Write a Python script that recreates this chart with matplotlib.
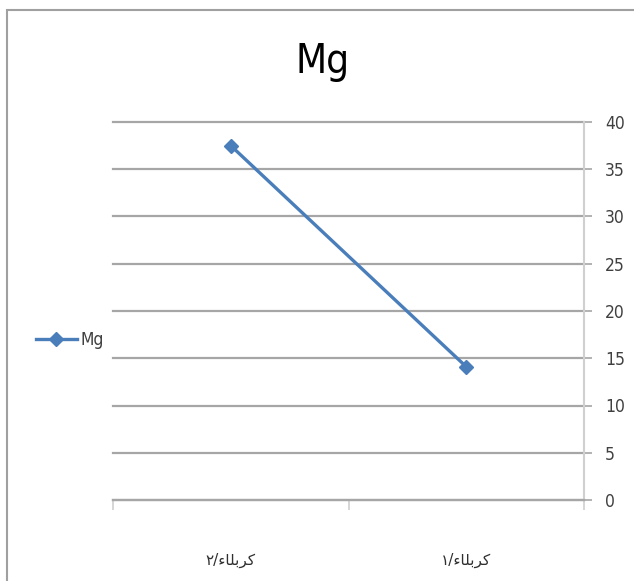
import matplotlib.pyplot as plt
from matplotlib.patches import Rectangle

# data, in the order Excel stored it (axis shown reversed, right to left)
categories = ["كربلاء/١", "كربلاء/٢"]
values = [14.1, 37.5]
series_name = "Mg"
yticks = [0, 5, 10, 15, 20, 25, 30, 35, 40]

# minimal Arabic shaping (matplotlib has no bidi / joining)
FORMS = {  # isolated, initial, medial, final
    'ك': ('ﻙ', 'ﻛ', 'ﻜ', 'ﻚ'),
    'ر': ('ﺭ', None, None, 'ﺮ'),
    'ب': ('ﺏ', 'ﺑ', 'ﺒ', 'ﺐ'),
    'ل': ('ﻝ', 'ﻟ', 'ﻠ', 'ﻞ'),
    'ا': ('ﺍ', None, None, 'ﺎ'),
    'ء': ('ﺀ', None, None, None),
}

def shape(s):
    out = []
    for i, ch in enumerate(s):
        if ch not in FORMS:
            out.append(ch)
            continue
        prev = s[i-1] if i > 0 else None
        nxt = s[i+1] if i + 1 < len(s) else None
        f = FORMS[ch]
        jp = prev in FORMS and FORMS[prev][1] is not None and f[3] is not None
        jn = nxt in FORMS and FORMS[nxt][3] is not None and f[1] is not None
        if jp and jn:
            out.append(f[2])
        elif jp:
            out.append(f[3])
        elif jn:
            out.append(f[1])
        else:
            out.append(f[0])
    return ''.join(out)[::-1]

narrow = {'family': 'DejaVu Sans', 'stretch': 'condensed'}

fig = plt.figure(figsize=(6.34, 5.81), dpi=100)
fig.patches.append(Rectangle((7/634, -0.1), 1.2, 1 - 10/581 + 0.1, transform=fig.transFigure,
                             fill=False, edgecolor='#a0a0a0', lw=1.5))
ax = fig.add_axes([113/634, 1 - 500/581, 471/634, 378/581])

x = list(range(len(categories)))
ax.plot(x, values, color='#4a7ebb', lw=2.4, marker='D', ms=7, label=series_name)
ax.set_xlim(1.5, -0.5)
ax.set_ylim(0, 40)

ax.yaxis.tick_right()
ax.set_yticks(yticks)
ax.set_yticklabels([str(v) for v in yticks], fontsize=12.5, color='#404040', **narrow)
ax.tick_params(axis='y', length=6, width=1.2, color='#a6a6a6', pad=9)
ax.grid(axis='y', color='#a6a6a6', lw=1.6)
for gl in ax.get_ygridlines():
    gl.set_clip_on(False)
ax.set_axisbelow(True)

ax.set_xticks(x)
ax.set_xticklabels([shape(c) for c in categories], family='DejaVu Sans', fontsize=11, color='#303030')
ax.set_xticks([-0.5, 0.5, 1.5], minor=True)
ax.tick_params(axis='x', which='major', length=0, pad=38)
ax.tick_params(axis='x', which='minor', length=7, width=1.2, color='#d0d0d0')

for s in ['top', 'left']:
    ax.spines[s].set_visible(False)
ax.spines['right'].set_color('#d0d0d0')
ax.spines['right'].set_linewidth(1.5)
ax.spines['bottom'].set_color('#a6a6a6')
ax.spines['bottom'].set_linewidth(1.6)

fig.text(323/634, 1 - 62/581, "Mg", ha='center', va='center', fontsize=29,
         color='black', **narrow)

fig.legend(loc='center left', bbox_to_anchor=(20/634, 1 - 340/581), frameon=False,
           prop={**narrow, 'size': 12.5}, handlelength=2.4,
           handletextpad=0.2, labelcolor='#404040')

fig.savefig('out.png', dpi=100)
